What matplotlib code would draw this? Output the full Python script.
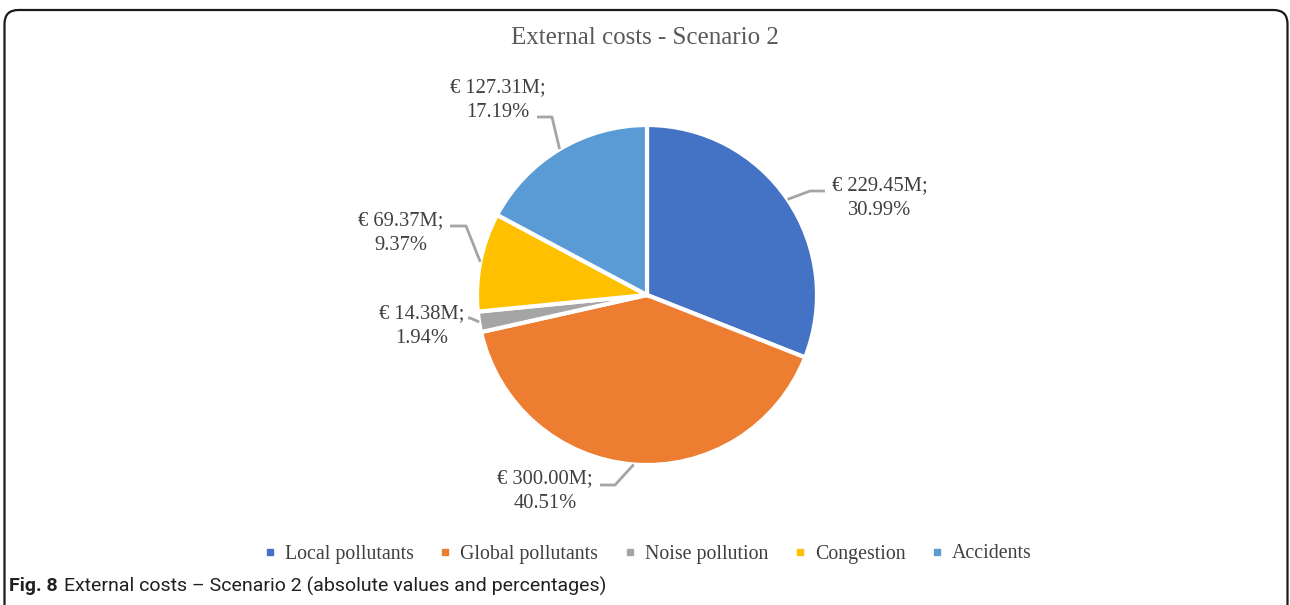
import numpy as np
import matplotlib
matplotlib.use("Agg")
import matplotlib.pyplot as plt
from matplotlib.patches import FancyBboxPatch

W, H = 1290, 605

categories = ["Local pollutants", "Global pollutants", "Noise pollution", "Congestion", "Accidents"]
values = [229.45, 300.00, 14.38, 69.37, 127.31]   # million euro
shares = [30.99, 40.51, 1.94, 9.37, 17.19]        # percent
colors = ["#4472C4", "#ED7D31", "#A5A5A5", "#FFC000", "#5B9BD5"]

# label layout (pixel coords, y from top): text centre, leader elbow, leader end
label_pos = [(880, 198), (545, 491), (422, 326), (401, 233), (498, 100)]
leader_pts = [[(810, 191), (825, 191)],
              [(615, 485), (600, 485)],
              [(470, 318), (468, 318)],
              [(466, 226), (450, 226)],
              [(552, 117), (537, 117)]]

serif = "Liberation Serif"
txt_col = "#404040"

fig = plt.figure(figsize=(W / 100, H / 100), dpi=100)
ax = fig.add_axes([0, 0, 1, 1])

def py(y):
    return H - y

# frame with rounded top corners (bottom runs off the figure)
frame = FancyBboxPatch((4.5, py(640)), 1283, 630, boxstyle="round,pad=0,rounding_size=14",
                       fill=False, ec="#1a1a1a", lw=1.6, clip_on=False)
ax.add_patch(frame)

cx, cy, r = 647, py(295), 170
wedges, _ = ax.pie(values, colors=colors, startangle=90, counterclock=False,
                   center=(cx, cy), radius=r, frame=True,
                   wedgeprops=dict(edgecolor="white", linewidth=3))
ax.set_xlim(0, W)
ax.set_ylim(0, H)
ax.axis("off")

for w, v, s, (tx, ty), pts in zip(wedges, values, shares, label_pos, leader_pts):
    ang = np.deg2rad((w.theta1 + w.theta2) / 2)
    x0, y0 = cx + r * np.cos(ang), cy + r * np.sin(ang)
    xs = [x0] + [p[0] for p in pts]
    ys = [y0] + [py(p[1]) for p in pts]
    ax.plot(xs, ys, color="#A5A5A5", lw=2, solid_capstyle="butt")
    ax.text(tx, py(ty), f"€ {v:.2f}M;\n{s:.2f}%", ha="center", va="center",
            family=serif, fontsize=14.8, color=txt_col, linespacing=1.4,
            multialignment="center")

ax.text(645, py(38), "External costs - Scenario 2", ha="center", va="center",
        family=serif, fontsize=18, color="#595959")

handles = [plt.Line2D([], [], marker="s", ls="", color=c, markersize=4.5) for c in colors]
fig.legend(handles, categories, loc="center", bbox_to_anchor=(648 / W, 1 - 554 / H),
           ncol=5, frameon=False, handlelength=0.6, handletextpad=0.45,
           columnspacing=1.3, prop=dict(family=serif, size=14.3),
           labelcolor=txt_col)

# caption
fig.canvas.draw()
rend = fig.canvas.get_renderer()
t1 = ax.text(9, py(586), "Fig. 8", ha="left", va="center", family="Roboto",
             fontweight="bold", fontsize=14, color="#231f20")
bb = t1.get_window_extent(renderer=rend)
ax.text(bb.x1 + 6, py(586), "External costs – Scenario 2 (absolute values and percentages)",
        ha="left", va="center", family="Roboto", fontsize=14, color="#231f20")

fig.savefig("out.png", dpi=100)
